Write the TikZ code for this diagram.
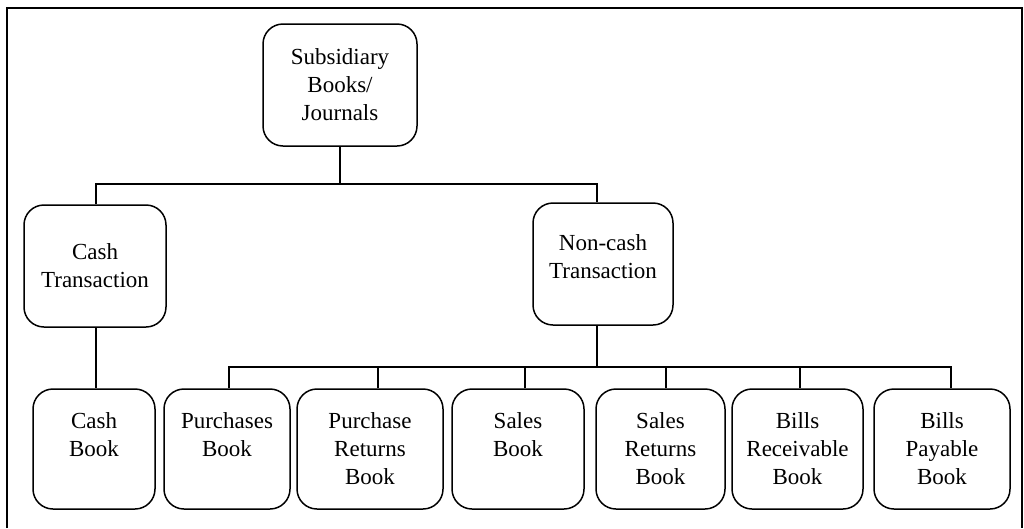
\documentclass[tikz,border=0pt]{standalone}
\usepackage{fontspec}
\setmainfont{Liberation Serif}
\begin{document}
\begin{tikzpicture}[x=1pt,y=-1pt,
  bx/.style={draw, line width=1.5pt, rounded corners=20pt, inner sep=0pt, align=center,
             font=\fontsize{23}{28}\selectfont},
  ln/.style={line width=1.3pt}]
\useasboundingbox (0,0) rectangle (1024,528);
% outer frame
\draw[ln] (7,528) -- (7,8) -- (1022,8) -- (1022,528);
% nodes
\node[bx, minimum width=154pt, minimum height=122pt] (sb) at (340,85) {Subsidiary\\Books/\\Journals};
\node[bx, minimum width=142pt, minimum height=122pt] (ct) at (95,266) {Cash\\Transaction};
\node[bx, minimum width=140pt, minimum height=122pt] (nc) at (603,264) {Non-cash\\Transaction\\[-14pt]\mbox{}};
\node[bx, minimum width=122pt, minimum height=120pt] (cb) at (94,449) {Cash\\Book\\\mbox{}};
\node[bx, minimum width=126pt, minimum height=120pt] (pb) at (227,449) {Purchases\\Book\\\mbox{}};
\node[bx, minimum width=146pt, minimum height=120pt] (pr) at (370,449) {Purchase\\Returns\\Book};
\node[bx, minimum width=132pt, minimum height=120pt] (sa) at (518,449) {Sales\\Book\\\mbox{}};
\node[bx, minimum width=129pt, minimum height=120pt] (sr) at (660.5,449) {Sales\\Returns\\Book};
\node[bx, minimum width=131pt, minimum height=120pt] (br) at (797.5,449) {Bills\\Receivable\\Book};
\node[bx, minimum width=136pt, minimum height=120pt] (bp) at (942,449) {Bills\\Payable\\Book};
% bus coordinates
\coordinate (bus1) at (0,184);
\coordinate (bus2) at (0,367);
% connectors, first level
\draw[ln] (sb.south) -- (sb.south |- bus1);
\draw[ln] ([xshift=1pt]ct.north) |- ([xshift=-6pt]nc.north |- bus1) -- ([xshift=-6pt]nc.north);
% cash branch
\draw[ln] ([xshift=1pt]ct.south) -- ([xshift=1pt]ct.south |- cb.north);
% non-cash branch
\draw[ln] ([xshift=-6pt]nc.south) -- ([xshift=-6pt]nc.south |- bus2);
\draw[ln] ([xshift=2pt]pb.north) |- ([xshift=9pt]bp.north |- bus2) -- ([xshift=9pt]bp.north);
\draw[ln] ([xshift=8pt]pr.north) -- ([xshift=8pt]pr.north |- bus2);
\draw[ln] ([xshift=7pt]sa.north) -- ([xshift=7pt]sa.north |- bus2);
\draw[ln] ([xshift=5.5pt]sr.north) -- ([xshift=5.5pt]sr.north |- bus2);
\draw[ln] ([xshift=2.5pt]br.north) -- ([xshift=2.5pt]br.north |- bus2);
\end{tikzpicture}
\end{document}
